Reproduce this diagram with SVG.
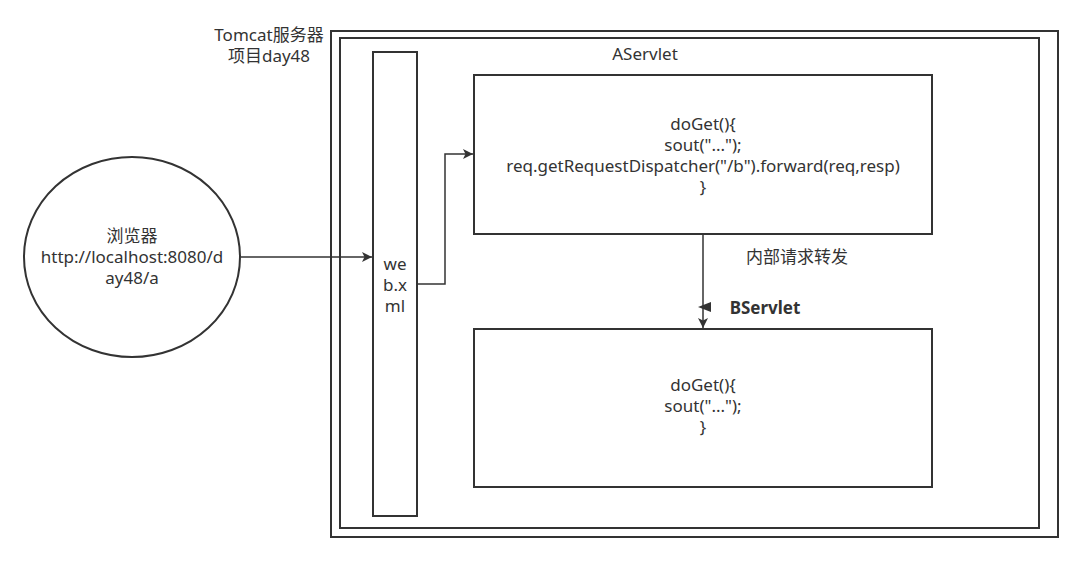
<svg xmlns="http://www.w3.org/2000/svg" width="1083" height="562" viewBox="0 0 1083 562">
<defs>
<style>
.box{fill:#fff;stroke:#333;stroke-width:2}
.t{font-family:"Noto Sans","Noto Sans CJK SC",sans-serif;font-size:17px;fill:#333;text-anchor:middle}
.b{font-weight:bold}
.c{fill:none;stroke:#333;stroke-width:1.5}
</style>
<marker id="ah" viewBox="0 0 10 10" refX="10" refY="5" markerWidth="10" markerHeight="10" markerUnits="userSpaceOnUse" orient="auto">
<path d="M0,0 L10,5 L0,10 L2.5,5 Z" fill="#333"/>
</marker>
</defs>
<rect width="1083" height="562" fill="#fff"/>
<g id="tomcat">
<rect class="box" x="331" y="31" width="727" height="506"/>
<text class="t" x="269" y="41">Tomcat服务器</text>
</g>
<g id="project">
<rect class="box" x="340" y="38" width="699" height="490"/>
<text class="t" x="269" y="62">项目day48</text>
</g>
<g id="webxml">
<rect class="box" x="373" y="52" width="44" height="464"/>
<text class="t" x="395" y="270">we</text>
<text class="t" x="395" y="291">b.x</text>
<text class="t" x="395" y="312">ml</text>
</g>
<g id="browser">
<ellipse cx="132" cy="257" rx="108" ry="100" fill="#fff" stroke="#333" stroke-width="2"/>
<text class="t" x="132" y="242">浏览器</text>
<text class="t" x="132" y="263">http://localhost:8080/d</text>
<text class="t" x="132" y="284">ay48/a</text>
</g>
<g id="aservlet">
<text class="t" x="645" y="60">AServlet</text>
<rect class="box" x="474" y="75" width="458" height="159"/>
<text class="t" x="703" y="130">doGet(){</text>
<text class="t" x="703" y="151">sout("...");</text>
<text class="t" x="703" y="172">req.getRequestDispatcher("/b").forward(req,resp)</text>
<text class="t" x="703" y="193">}</text>
</g>
<g id="bservlet">
<rect class="box" x="474" y="329" width="458" height="158"/>
<text class="t" x="703" y="391">doGet(){</text>
<text class="t" x="703" y="412">sout("...");</text>
<text class="t" x="703" y="433">}</text>
</g>
<g id="connectors">
<path class="c" d="M241,257 H372" marker-end="url(#ah)"/>
<path class="c" d="M417,284 H445 V154 H473" marker-end="url(#ah)"/>
<path class="c" d="M703,234 V328" marker-end="url(#ah)"/>
<path d="M698,307 L711,302 L711,312 Z" fill="#333"/>
<text class="t" x="797" y="263">内部请求转发</text>
<text class="t b" x="765" y="314">BServlet</text>
</g>
</svg>
